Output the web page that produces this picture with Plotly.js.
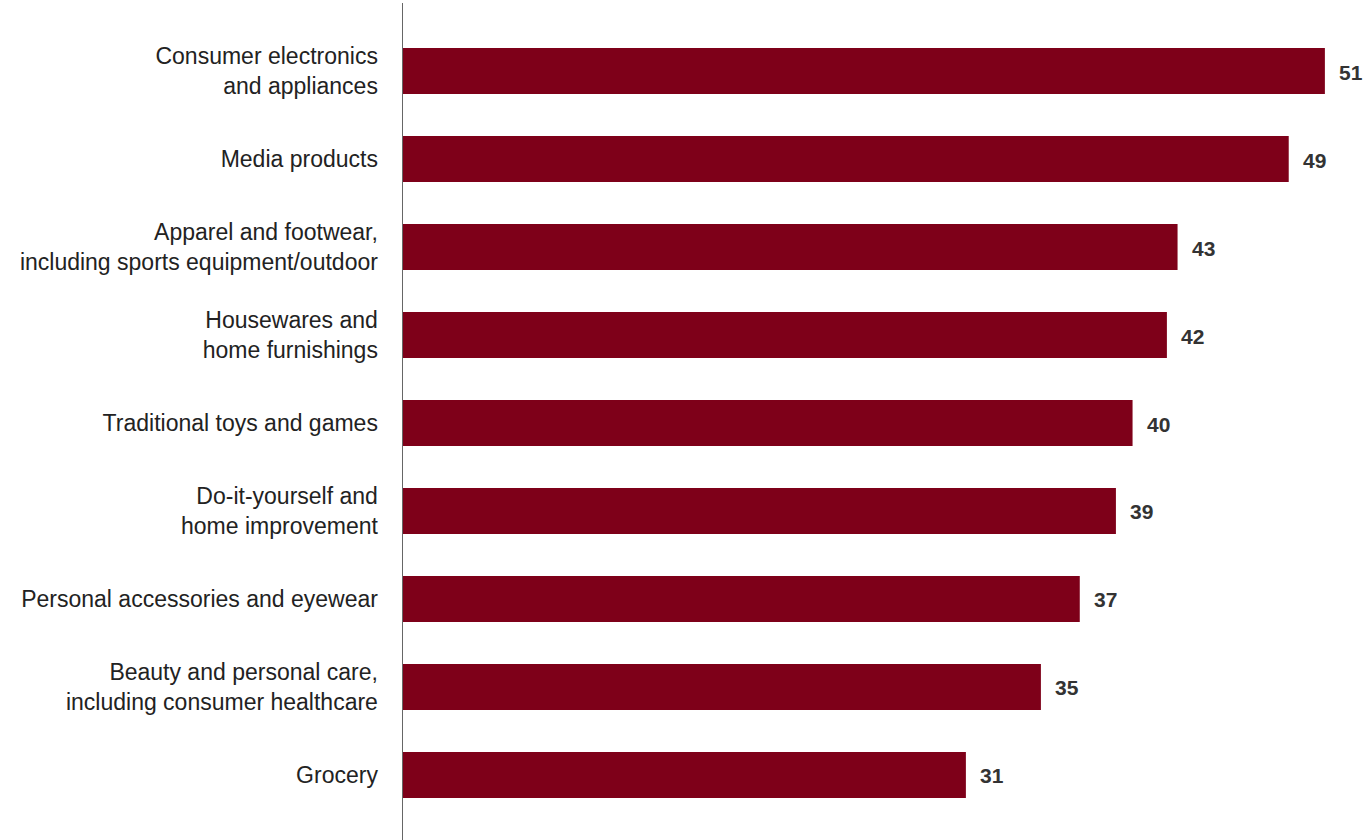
<!DOCTYPE html>
<html>
<head>
<meta charset="utf-8">
<script src="https://cdn.plot.ly/plotly-3.0.1.min.js"></script>
<style>html,body{margin:0;padding:0;background:#fff;}#chart{width:1367px;height:840px;}</style>
</head>
<body>
<div id="chart"></div>
<script>
var categories = [
  "Consumer electronics<br>and appliances",
  "Media products",
  "Apparel and footwear,<br>including sports equipment/outdoor",
  "Housewares and<br>home furnishings",
  "Traditional toys and games",
  "Do-it-yourself and<br>home improvement",
  "Personal accessories and eyewear",
  "Beauty and personal care,<br>including consumer healthcare",
  "Grocery"
];
// bar lengths (labels are rounded)
var values = [51.0, 49.0, 42.85, 42.26, 40.36, 39.44, 37.44, 35.29, 31.14];
var valueLabels = ["51", "49", "43", "42", "40", "39", "37", "35", "31"];

var barColor = "#7e0019";
var fontFam = "Liberation Sans, Arial, Helvetica, sans-serif";

var annotations = values.map(function (v, i) {
  return {
    x: v, y: categories[i], xref: "x", yref: "y",
    text: "<b>" + valueLabels[i] + "</b>", showarrow: false,
    xanchor: "left", yanchor: "middle", xshift: 12, yshift: -1,
    font: {family: fontFam, size: 21, color: "#333333"}
  };
});

var trace = {
  type: "bar",
  orientation: "h",
  x: values,
  y: categories,
  marker: {color: barColor},
  hoverinfo: "none"
};

var layout = {
  width: 1367, height: 840,
  margin: {l: 403, r: 15, t: 3, b: 0},
  paper_bgcolor: "#ffffff", plot_bgcolor: "#ffffff",
  showlegend: false,
  bargap: 0.477,
  font: {family: fontFam, size: 23, color: "#222222"},
  xaxis: {range: [0, 52.5], visible: false, showgrid: false, zeroline: false, fixedrange: true},
  yaxis: {
    type: "category",
    categoryorder: "array", categoryarray: categories,
    range: [8.739, -0.773],
    showline: true, linecolor: "#666666", linewidth: 1.5,
    showgrid: false, zeroline: false, ticks: "",
    ticklabelstandoff: 19,
    tickfont: {family: fontFam, size: 23, color: "#222222"}
  },
  annotations: annotations
};

Plotly.newPlot("chart", [trace], layout, {displayModeBar: false, staticPlot: true});
</script>
</body>
</html>
